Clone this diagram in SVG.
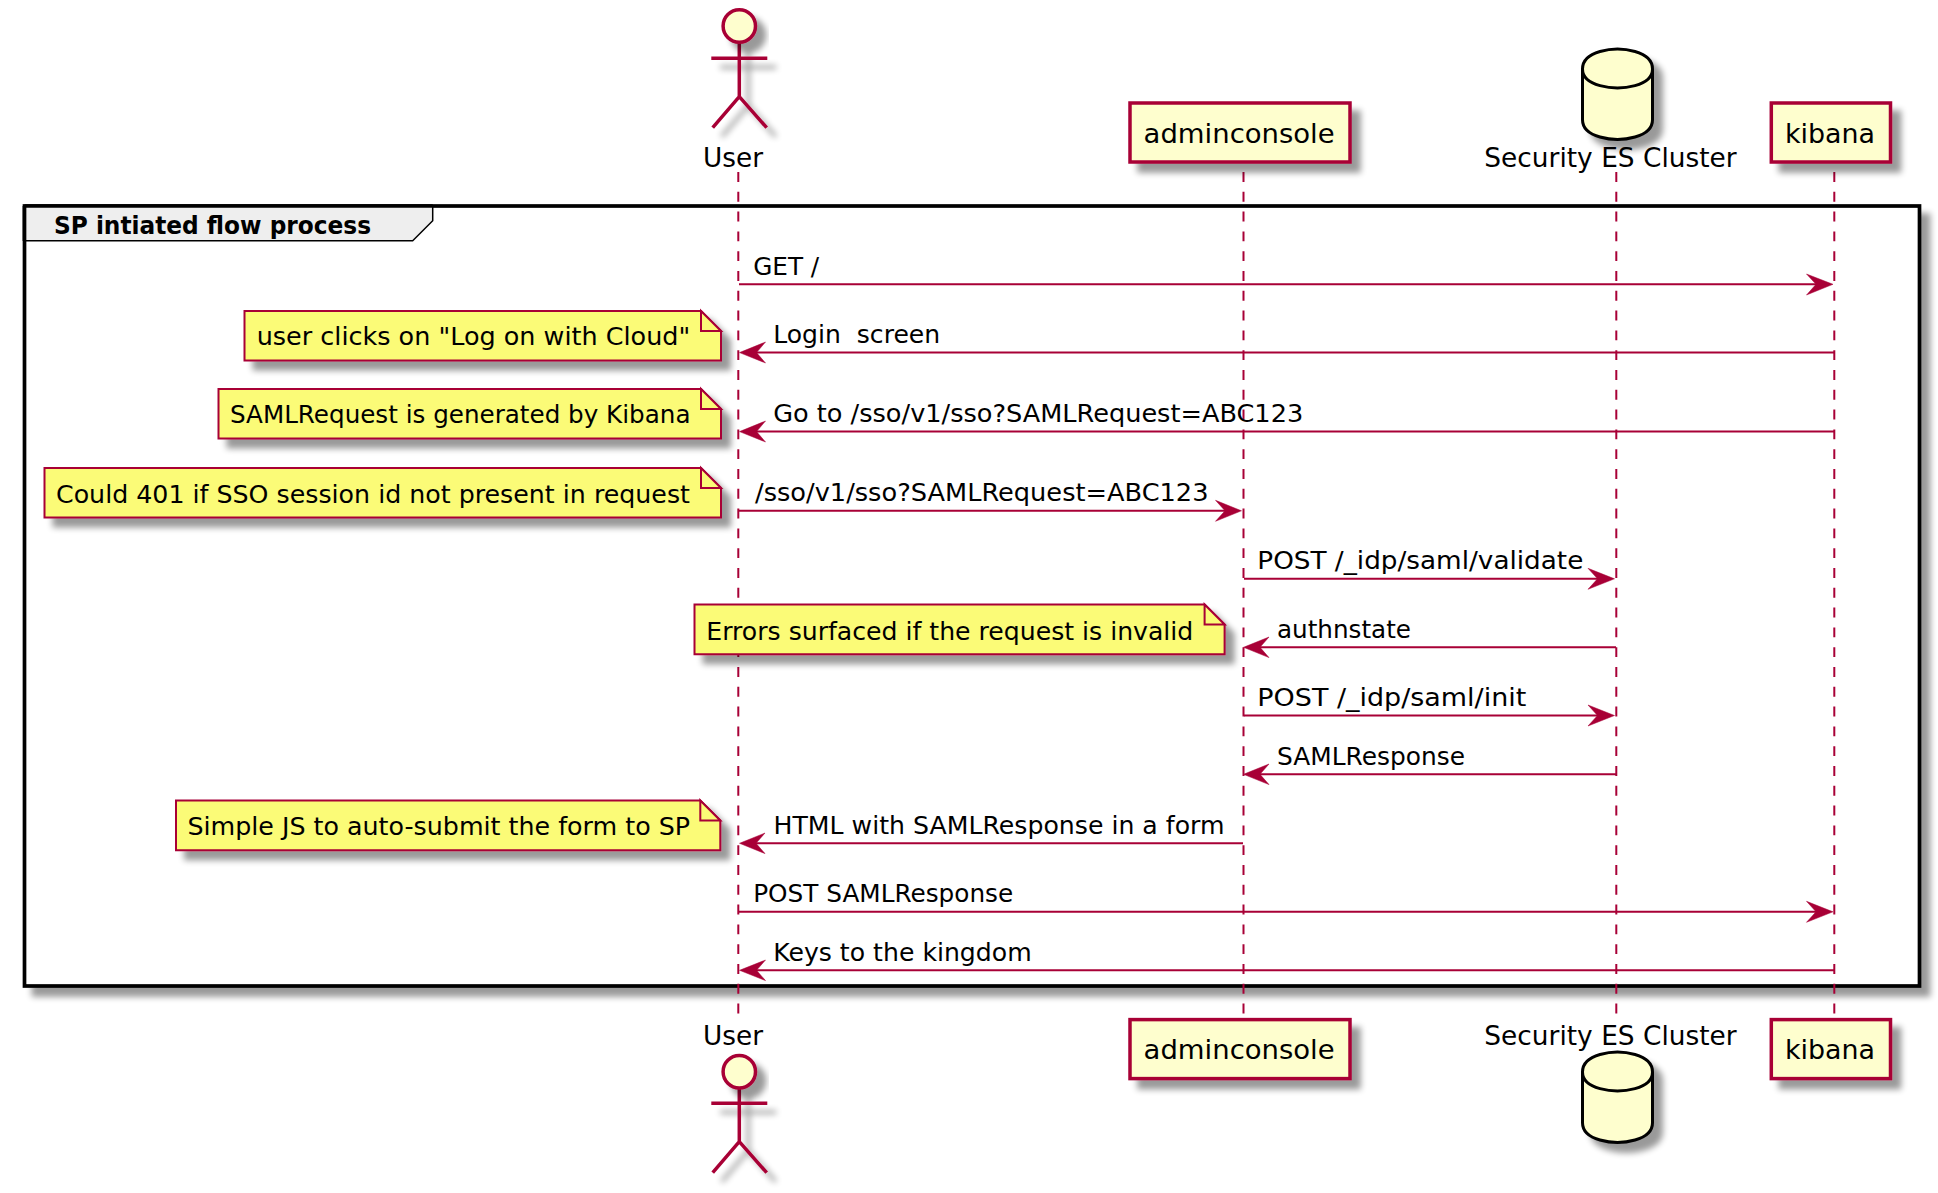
<svg xmlns="http://www.w3.org/2000/svg" width="1938" height="1193" viewBox="0 0 1938 1193">
<style>
text{font-family:"DejaVu Sans",Verdana,sans-serif;fill:#000;white-space:pre}
.m{font-size:25px}.p{font-size:27px}
.t{font-size:25px;font-weight:bold}
.life{stroke:#A80036;stroke-width:2;stroke-dasharray:9.9 9.9;fill:none}
.msg{stroke:#A80036;stroke-width:2;fill:none}
.ah{fill:#A80036;stroke:#A80036;stroke-width:0.5}
.box{fill:#FEFECE;stroke:#A80036;stroke-width:3.5;filter:url(#sh)}
.act{fill:none;stroke:#A80036;stroke-width:3.5;filter:url(#sh)}
.head{fill:#FEFECE;stroke:#A80036;stroke-width:3.5;filter:url(#sh)}
.db{fill:#FEFECE;stroke:#000;stroke-width:3;filter:url(#sh)}
.note{fill:#FBFB77;stroke:#A80036;stroke-width:2;filter:url(#sh)}
.fold{fill:#FBFB77;stroke:#A80036;stroke-width:2}
</style>
<defs>
<filter id="sh" x="-30%" y="-30%" width="170%" height="170%" filterUnits="objectBoundingBox" primitiveUnits="userSpaceOnUse">
<feGaussianBlur in="SourceAlpha" stdDeviation="3.2"/>
<feOffset dx="9" dy="9" result="b"/>
<feComponentTransfer in="b" result="c"><feFuncA type="linear" slope="0.4"/></feComponentTransfer>
<feMerge><feMergeNode in="c"/><feMergeNode in="SourceGraphic"/></feMerge>
</filter>
<filter id="shF" filterUnits="userSpaceOnUse" x="0" y="180" width="1938" height="840">
<feGaussianBlur in="SourceAlpha" stdDeviation="3.2"/>
<feOffset dx="9" dy="9" result="b"/>
<feComponentTransfer in="b" result="c"><feFuncA type="linear" slope="0.4"/></feComponentTransfer>
<feMerge><feMergeNode in="c"/><feMergeNode in="SourceGraphic"/></feMerge>
</filter>
</defs>
<rect width="1938" height="1193" fill="#fff"/>

<g id="frame">
<rect x="24.5" y="206" width="1895" height="780" fill="#fff" stroke="#000" stroke-width="3.7" filter="url(#shF)"/>
<path d="M24.5 240.7H412.7L432.7 220.7V206H24.5Z" fill="#EEEEEE" stroke="#000" stroke-width="1.5"/>
<path d="M24.5 206H432.7M24.5 206V241" fill="none" stroke="#000" stroke-width="3.7"/>
<text class="t" x="54" y="233.8" textLength="317" lengthAdjust="spacingAndGlyphs">SP intiated flow process</text>
</g>

<g id="lifelines">
<line class="life" x1="738.3" y1="172" x2="738.3" y2="1020"/>
<line class="life" x1="1243.5" y1="172" x2="1243.5" y2="1020"/>
<line class="life" x1="1616.3" y1="172" x2="1616.3" y2="1020"/>
<line class="life" x1="1834.3" y1="172" x2="1834.3" y2="1020"/>
</g>

<g id="connectors">
<line class="msg" x1="739" y1="284.3" x2="1825" y2="284.3"/>
<path class="ah" d="M1806.5 274L1833 284.3L1806.5 295L1816 284.3Z"/>
<text class="m" x="753.2" y="275" textLength="66" lengthAdjust="spacingAndGlyphs">GET /</text>

<line class="msg" x1="1834" y1="352.6" x2="748" y2="352.6"/>
<path class="ah" d="M765.5 342L739.5 352.6L765.5 363L756.5 352.6Z"/>
<text class="m" x="773.2" y="343" textLength="167" lengthAdjust="spacingAndGlyphs">Login  screen</text>

<line class="msg" x1="1834" y1="431.6" x2="748" y2="431.6"/>
<path class="ah" d="M765.5 421L739.5 431.6L765.5 442L756.5 431.6Z"/>
<text class="m" x="773.2" y="421.7" textLength="530" lengthAdjust="spacingAndGlyphs">Go to /sso/v1/sso?SAMLRequest=ABC123</text>

<line class="msg" x1="739" y1="510.8" x2="1234" y2="510.8"/>
<path class="ah" d="M1215.5 500.3L1241.5 510.8L1215.5 521.3L1225 510.8Z"/>
<text class="m" x="755" y="501" textLength="453.5" lengthAdjust="spacingAndGlyphs">/sso/v1/sso?SAMLRequest=ABC123</text>

<line class="msg" x1="1244" y1="578.8" x2="1606" y2="578.8"/>
<path class="ah" d="M1588 568.3L1614.5 578.8L1588 589.3L1597.5 578.8Z"/>
<text class="m" x="1257.3" y="569" textLength="326" lengthAdjust="spacingAndGlyphs">POST /_idp/saml/validate</text>

<line class="msg" x1="1616" y1="647.3" x2="1253" y2="647.3"/>
<path class="ah" d="M1269 637L1243.5 647.3L1269 657.6L1260 647.3Z"/>
<text class="m" x="1277" y="638" textLength="134" lengthAdjust="spacingAndGlyphs">authnstate</text>

<line class="msg" x1="1244" y1="715.5" x2="1606" y2="715.5"/>
<path class="ah" d="M1588 705L1614.5 715.5L1588 726L1597.5 715.5Z"/>
<text class="m" x="1257.3" y="706" textLength="269" lengthAdjust="spacingAndGlyphs">POST /_idp/saml/init</text>

<line class="msg" x1="1616" y1="774.3" x2="1253" y2="774.3"/>
<path class="ah" d="M1269 764L1243.5 774.3L1269 784.6L1260 774.3Z"/>
<text class="m" x="1277" y="765" textLength="188" lengthAdjust="spacingAndGlyphs">SAMLResponse</text>

<line class="msg" x1="1243" y1="843.3" x2="748" y2="843.3"/>
<path class="ah" d="M765 833L739.5 843.3L765 853.6L756 843.3Z"/>
<text class="m" x="773.5" y="834" textLength="451" lengthAdjust="spacingAndGlyphs">HTML with SAMLResponse in a form</text>

<line class="msg" x1="739" y1="911.8" x2="1825" y2="911.8"/>
<path class="ah" d="M1806.5 901.3L1833 911.8L1806.5 922.3L1816 911.8Z"/>
<text class="m" x="753.2" y="902" textLength="260" lengthAdjust="spacingAndGlyphs">POST SAMLResponse</text>

<line class="msg" x1="1834" y1="970.3" x2="748" y2="970.3"/>
<path class="ah" d="M765.5 960L739.5 970.3L765.5 980.6L756.5 970.3Z"/>
<text class="m" x="773.2" y="960.5" textLength="258.5" lengthAdjust="spacingAndGlyphs">Keys to the kingdom</text>
</g>

<g id="actor-top">
<path class="act" d="M739.3 42V96.7M711.3 58.3H767.3M712.7 127.7L739.3 96.7L766.7 127.7"/>
<circle class="head" cx="739.3" cy="26" r="16.2"/>
<text class="p" x="703" y="166.7" textLength="60" lengthAdjust="spacingAndGlyphs">User</text>
</g>
<g id="actor-bottom">
<path class="act" d="M739.3 1087.7V1141.7M711.3 1103.3H767.3M712.7 1172.7L739.3 1141.7L766.7 1172.7"/>
<circle class="head" cx="739.3" cy="1071.7" r="16.2"/>
<text class="p" x="703" y="1045" textLength="60" lengthAdjust="spacingAndGlyphs">User</text>
</g>

<g id="adminconsole-top">
<rect class="box" x="1130" y="103" width="220" height="59"/>
<text class="p" x="1143.6" y="143" textLength="191" lengthAdjust="spacingAndGlyphs">adminconsole</text>
</g>
<g id="adminconsole-bottom">
<rect class="box" x="1130" y="1019.6" width="220" height="59"/>
<text class="p" x="1143.6" y="1059.3" textLength="191" lengthAdjust="spacingAndGlyphs">adminconsole</text>
</g>

<g id="security-top">
<path class="db" d="M1582.5 69C1582.5 49 1617.5 49 1617.5 49C1617.5 49 1652.5 49 1652.5 69V119.7C1652.5 139.5 1617.5 139.5 1617.5 139.5C1617.5 139.5 1582.5 139.5 1582.5 119.7Z"/>
<path d="M1582.5 69C1582.5 88 1617.5 88 1617.5 88C1617.5 88 1652.5 88 1652.5 69" fill="none" stroke="#000" stroke-width="3"/>
<text class="p" x="1484.3" y="166.7" textLength="252.4" lengthAdjust="spacingAndGlyphs">Security ES Cluster</text>
</g>
<g id="security-bottom">
<path class="db" d="M1582.5 1072C1582.5 1052 1617.5 1052 1617.5 1052C1617.5 1052 1652.5 1052 1652.5 1072V1122.7C1652.5 1142.5 1617.5 1142.5 1617.5 1142.5C1617.5 1142.5 1582.5 1142.5 1582.5 1122.7Z"/>
<path d="M1582.5 1072C1582.5 1091 1617.5 1091 1617.5 1091C1617.5 1091 1652.5 1091 1652.5 1072" fill="none" stroke="#000" stroke-width="3"/>
<text class="p" x="1484.3" y="1045" textLength="252.4" lengthAdjust="spacingAndGlyphs">Security ES Cluster</text>
</g>

<g id="kibana-top">
<rect class="box" x="1771.3" y="103" width="119.2" height="59"/>
<text class="p" x="1785" y="143" textLength="90" lengthAdjust="spacingAndGlyphs">kibana</text>
</g>
<g id="kibana-bottom">
<rect class="box" x="1771.3" y="1019.6" width="119.2" height="59"/>
<text class="p" x="1785" y="1059.3" textLength="90" lengthAdjust="spacingAndGlyphs">kibana</text>
</g>

<g id="note-login">
<path class="note" d="M244.5 311H701L721 331V360.5H244.5Z"/>
<path class="fold" d="M701 311V331H721Z"/>
<text class="m" x="256.7" y="345" textLength="433.5" lengthAdjust="spacingAndGlyphs">user clicks on "Log on with Cloud"</text>
</g>
<g id="note-samlrequest">
<path class="note" d="M218.5 389H701L721 409V438.5H218.5Z"/>
<path class="fold" d="M701 389V409H721Z"/>
<text class="m" x="230" y="423.3" textLength="460.5" lengthAdjust="spacingAndGlyphs">SAMLRequest is generated by Kibana</text>
</g>
<g id="note-401">
<path class="note" d="M44.5 468H701L721 488V517.5H44.5Z"/>
<path class="fold" d="M701 468V488H721Z"/>
<text class="m" x="56" y="502.5" textLength="634" lengthAdjust="spacingAndGlyphs">Could 401 if SSO session id not present in request</text>
</g>
<g id="note-errors">
<path class="note" d="M694.5 604.5H1204.6L1224.6 624.5V654.3H694.5Z"/>
<path class="fold" d="M1204.6 604.5V624.5H1224.6Z"/>
<text class="m" x="706.3" y="639.5" textLength="487" lengthAdjust="spacingAndGlyphs">Errors surfaced if the request is invalid</text>
</g>
<g id="note-js">
<path class="note" d="M176 800.5H700.3L720.3 820.5V850.3H176Z"/>
<path class="fold" d="M700.3 800.5V820.5H720.3Z"/>
<text class="m" x="187.5" y="835" textLength="502.5" lengthAdjust="spacingAndGlyphs">Simple JS to auto-submit the form to SP</text>
</g>
</svg>
